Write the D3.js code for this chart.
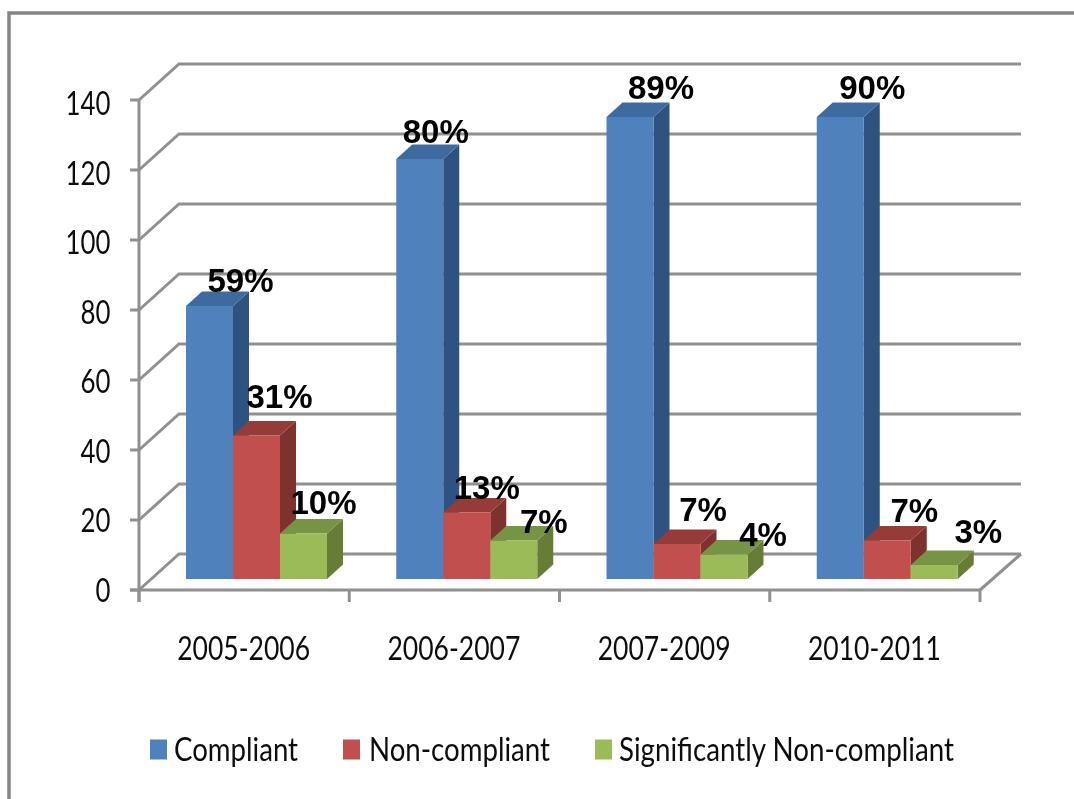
<!DOCTYPE html>
<html>
<head>
<meta charset="utf-8">
<script src="https://d3js.org/d3.v7.min.js"></script>
<style>
html, body { margin: 0; padding: 0; background: #fff; }
svg { display: block; }
</style>
</head>
<body>
<div id="chart"></div>
<script>
const categories = ["2005-2006", "2006-2007", "2007-2009", "2010-2011"];
const seriesNames = ["Compliant", "Non-compliant", "Significantly Non-compliant"];
const compliant = [78, 120, 132, 132];
const nonCompliant = [41, 19, 10, 11];
const significantlyNon = [13, 11, 7, 4];
const compliantPct = ["59%", "80%", "89%", "90%"];
const nonCompliantPct = ["31%", "13%", "7%", "7%"];
const significantlyPct = ["10%", "7%", "4%", "3%"];
const yTicks = [0, 20, 40, 60, 80, 100, 120, 140];

const width = 1074, height = 799;
const gray = "#909090";
// 3d look: how far the back wall sits from the front of the axis, and the bar depth
const wallDx = 40, wallDy = -36;
const barDx = 16, barDy = -14.5;
const barBaseUp = 11;

const colors = [
  { front: "#4f81bd", side: "#2f5380", top: "#3d6a9f" },
  { front: "#c0504d", side: "#7e302e", top: "#953a38" },
  { front: "#9bbb59", side: "#667d39", top: "#779445" }
];

const svg = d3.select("#chart").append("svg")
  .attr("width", width)
  .attr("height", height);

const defs = svg.append("defs");
defs.append("filter").attr("id", "soft")
  .attr("filterUnits", "userSpaceOnUse")
  .attr("x", 0).attr("y", 0)
  .attr("width", width).attr("height", height)
  .append("feGaussianBlur").attr("stdDeviation", 0.75);

const root = svg.append("g").attr("filter", "url(#soft)");

// outer frame, only top and left show in the shot
root.append("path")
  .attr("d", `M9,805V13H${width + 5}`)
  .attr("fill", "none")
  .attr("stroke", "#858585")
  .attr("stroke-width", 3.5);

const x0 = d3.scaleBand().domain(categories).range([139, 980]);
const xSeries = d3.scaleBand().domain(d3.range(3)).range([47, 188]);
const y = d3.scaleLinear().domain([0, 140]).range([590, 100]);
// tick labels in the shot drift a little off their ticks
const yLabel = d3.scaleLinear().domain([0, 140]).range([602, 115]);

// walls
const grid = root.append("g")
  .attr("fill", "none")
  .attr("stroke", gray)
  .attr("stroke-width", 3);

yTicks.forEach(t => {
  grid.append("path")
    .attr("d", `M139,${y(t)}l${wallDx},${wallDy}H1021`);
});
grid.append("path")
  .attr("d", `M980,${y(0)}L1021,${y(0) + wallDy}`);

// y axis + ticks
const axis = root.append("g")
  .attr("fill", "none")
  .attr("stroke", gray)
  .attr("stroke-width", 3);
axis.append("path").attr("d", `M139,${y(140)}V${y(0) + 12}`);
axis.append("path").attr("d", `M130,${y(0)}H980`);
yTicks.forEach(t => {
  axis.append("path").attr("d", `M130,${y(t)}H139`);
});
categories.concat(["end"]).forEach((c, i) => {
  const px = 139 + i * x0.bandwidth();
  axis.append("path").attr("d", `M${px},${y(0)}v12`);
});

// stretched Calibri look: Lato squeezed to the measured width
function stretched(sel, len) {
  return sel.attr("font-family", "Lato, Carlito, sans-serif")
    .attr("fill", "#111")
    .attr("font-size", 32)
    .attr("textLength", len)
    .attr("lengthAdjust", "spacingAndGlyphs");
}

yTicks.forEach(t => {
  const s = String(t);
  stretched(root.append("text"), s.length === 3 ? 45 : s.length === 2 ? 30 : 15)
    .attr("x", 110.5)
    .attr("y", yLabel(t))
    .attr("text-anchor", "end")
    .text(s);
});

categories.forEach(c => {
  stretched(root.append("text"), 133)
    .attr("x", x0(c) + x0.bandwidth() / 2 - 0.5)
    .attr("y", 660)
    .attr("text-anchor", "middle")
    .text(c);
});

// bars, left to right per group
const allValues = [compliant, nonCompliant, significantlyNon];
const barY = v => y(v) - barBaseUp;

categories.forEach((c, ci) => {
  allValues.forEach((vals, si) => {
    const v = vals[ci];
    const bx = x0(c) + xSeries(si);
    const bw = xSeries.bandwidth();
    const top = barY(v);
    const bottom = barY(0);
    const col = colors[si];
    const g = root.append("g");
    g.append("path")
      .attr("fill", col.side)
      .attr("d", `M${bx + bw},${top}l${barDx},${barDy}V${bottom + barDy}l${-barDx},${-barDy}Z`);
    g.append("path")
      .attr("fill", col.top)
      .attr("d", `M${bx},${top}l${barDx},${barDy}h${bw}l${-barDx},${-barDy}Z`);
    g.append("rect")
      .attr("x", bx)
      .attr("y", top)
      .attr("width", bw)
      .attr("height", bottom - top)
      .attr("fill", col.front);
  });
});

// percent labels: nudges from the bar's top centre, hand placed like the original
const labelSets = [compliantPct, nonCompliantPct, significantlyPct];
const nudgeX = [[31, 16, 31, 32], [23, 20, 26, 27], [20, 30, 39, 44]];
const nudgeY = [[-14, -16, -18, -18], [-28, -14, -23, -19], [-20, -8, -9, -22]];
labelSets.forEach((labels, si) => {
  labels.forEach((txt, ci) => {
    const c = categories[ci];
    root.append("text")
      .attr("x", x0(c) + xSeries(si) + xSeries.bandwidth() / 2 + nudgeX[si][ci])
      .attr("y", barY(allValues[si][ci]) + nudgeY[si][ci])
      .attr("text-anchor", "middle")
      .attr("font-family", "'Liberation Sans', Arial, sans-serif")
      .attr("font-weight", "bold")
      .attr("font-size", 33)
      .attr("fill", "#000")
      .text(txt);
  });
});

// legend
const legendKeyX = [150, 343, 595];
const legendTextX = [174, 369, 619];
const legendLen = [124, 181, 335];
seriesNames.forEach((name, i) => {
  root.append("rect")
    .attr("x", legendKeyX[i])
    .attr("y", 739.5)
    .attr("width", 17)
    .attr("height", 20)
    .attr("fill", colors[i].front);
  stretched(root.append("text"), legendLen[i])
    .attr("x", legendTextX[i])
    .attr("y", 761)
    .text(name);
});
</script>
</body>
</html>
